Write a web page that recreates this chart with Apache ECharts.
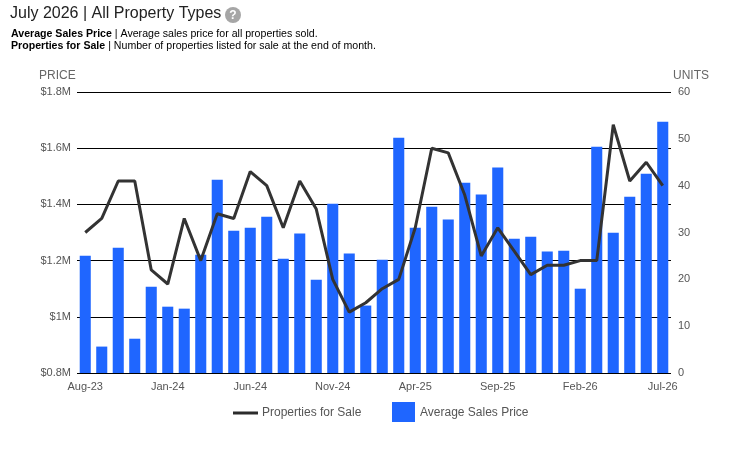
<!DOCTYPE html>
<html>
<head>
<meta charset="utf-8">
<script src="https://cdn.jsdelivr.net/npm/echarts@6/dist/echarts.min.js"></script>
<style>html,body{margin:0;padding:0;background:#fff}#c{width:746px;height:450px}</style>
</head>
<body>
<div id="c"></div>
<script>
var months = ['Aug-23','Sep-23','Oct-23','Nov-23','Dec-23','Jan-24','Feb-24','Mar-24','Apr-24','May-24','Jun-24','Jul-24',
  'Aug-24','Sep-24','Oct-24','Nov-24','Dec-24','Jan-25','Feb-25','Mar-25','Apr-25','May-25','Jun-25','Jul-25',
  'Aug-25','Sep-25','Oct-25','Nov-25','Dec-25','Jan-26','Feb-26','Mar-26','Apr-26','May-26','Jun-26','Jul-26'];
var avgSalesPrice = [1.217,0.894,1.246,0.922,1.107,1.036,1.029,1.221,1.488,1.306,1.317,1.356,
  1.207,1.296,1.132,1.402,1.225,1.040,1.203,1.637,1.317,1.392,1.346,1.477,
  1.435,1.531,1.278,1.285,1.232,1.235,1.100,1.605,1.299,1.427,1.509,1.694];
var propertiesForSale = [30,33,41,41,22,19,33,24,34,33,43,40,
  31,41,35,20,13,15,18,20,31,48,47,38,
  25,31,26,21,23,23,24,24,53,41,45,40];
var priceTicks = {min:0.8, max:1.8, interval:0.2};
var unitTicks = {min:0, max:60, interval:10};

var chart = echarts.init(document.getElementById('c'));
var FONT = 'Liberation Sans, Arial, sans-serif';
chart.setOption({
  animation:false,
  textStyle:{fontFamily:FONT},
  graphic:[
    {type:'text', left:10, top:6, style:{text:'July 2026 | All Property Types', fontSize:16, fill:'#222', fontFamily:FONT}},
    {type:'circle', shape:{cx:233, cy:15, r:8}, style:{fill:'#a6a6a6'}},
    {type:'text', x:233, y:15.5, style:{text:'?', fontSize:12, fontWeight:'bold', fill:'#fff', align:'center', verticalAlign:'middle', fontFamily:FONT}},
    {type:'text', left:11, top:29, style:{
      text:'{b|Average Sales Price} | Average sales price for all properties sold.',
      fontSize:10.6, fill:'#000', fontFamily:FONT, rich:{b:{fontWeight:'bold', fontSize:10.6, fontFamily:FONT}}}},
    {type:'text', left:11, top:41, style:{
      text:'{b|Properties for Sale} | Number of properties listed for sale at the end of month.',
      fontSize:10.6, fill:'#000', fontFamily:FONT, rich:{b:{fontWeight:'bold', fontSize:10.6, fontFamily:FONT}}}},
    {type:'text', left:39, top:70, style:{text:'PRICE', fontSize:12, fill:'#666', fontFamily:FONT}},
    {type:'text', left:673, top:70, style:{text:'UNITS', fontSize:12, fill:'#666', fontFamily:FONT}},
    {type:'rect', shape:{x:233, y:411.5, width:25, height:3}, style:{fill:'#2b2b2b'}},
    {type:'text', left:262, top:407, style:{text:'Properties for Sale', fontSize:12, fill:'#555', fontFamily:FONT}},
    {type:'rect', shape:{x:392, y:402, width:23, height:20}, style:{fill:'#1f66ff'}},
    {type:'text', left:420, top:407, style:{text:'Average Sales Price', fontSize:12, fill:'#555', fontFamily:FONT}}
  ],
  grid:{left:77, right:75, top:92, bottom:77},
  xAxis:{
    type:'category', data:months,
    axisTick:{show:false},
    axisLine:{show:false},
    axisLabel:{interval:4, color:'#555', fontSize:11, margin:8, fontFamily:FONT}
  },
  yAxis:[
    {type:'value', min:priceTicks.min, max:priceTicks.max, interval:priceTicks.interval,
     axisLine:{show:false}, axisTick:{show:false},
     splitLine:{lineStyle:{color:'#000', width:1}},
     axisLabel:{color:'#555', fontSize:11, margin:6, fontFamily:FONT,
       formatter:function(v){return '$' + (+v.toFixed(1)) + 'M';}}},
    {type:'value', min:unitTicks.min, max:unitTicks.max, interval:unitTicks.interval,
     axisLine:{show:false}, axisTick:{show:false}, splitLine:{show:false},
     axisLabel:{color:'#555', fontSize:11, margin:7, fontFamily:FONT}}
  ],
  series:[
    {name:'Average Sales Price', type:'bar', yAxisIndex:0, data:avgSalesPrice,
     barCategoryGap:'33%', itemStyle:{color:'#1f66ff'}, z:2},
    {name:'Properties for Sale', type:'line', yAxisIndex:1, data:propertiesForSale,
     symbol:'none', lineStyle:{color:'#333', width:3}, itemStyle:{color:'#333'}, z:3}
  ]
});
</script>
</body>
</html>
